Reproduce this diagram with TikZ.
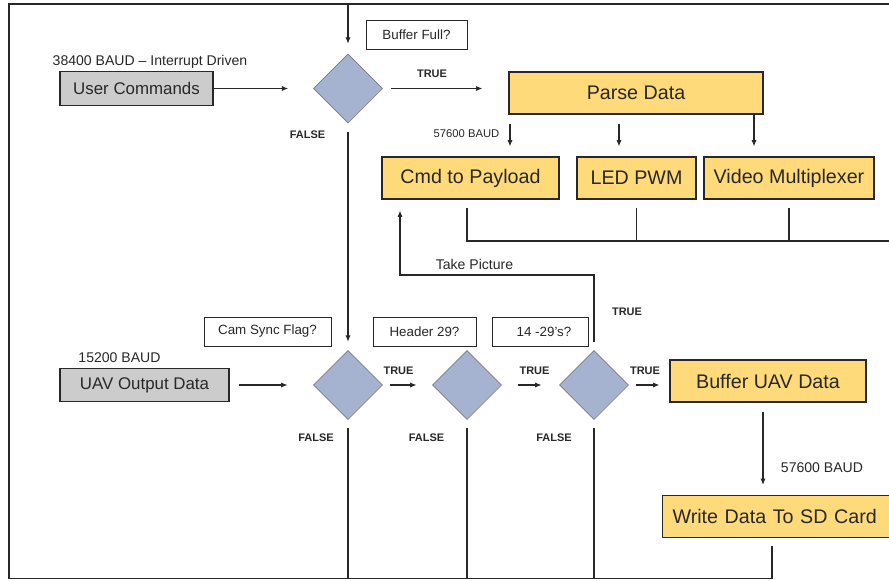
\documentclass[tikz,border=0pt]{standalone}
\usepackage{fontspec}
\setmainfont{Liberation Sans}
\usepackage{tikz}
\usetikzlibrary{positioning,shapes.geometric,arrows.meta}
\definecolor{ink}{RGB}{40,40,40}
\definecolor{boxgray}{RGB}{204,204,204}
\definecolor{boxyellow}{RGB}{255,218,122}
\definecolor{decblue}{RGB}{166,179,208}
\definecolor{decline}{RGB}{120,120,132}
\tikzset{gbox/.style = {rectangle,draw=ink,fill=boxgray,line width=0.8pt,inner sep=0pt,
                        font=\fontsize{12}{14}\selectfont,text=ink}}
\tikzset{ybox/.style = {rectangle,draw=ink,fill=boxyellow,line width=0.8pt,inner sep=0pt,
                        minimum height=1.05cm,font=\fontsize{14}{16}\selectfont,text=ink}}
\tikzset{qbox/.style = {rectangle,draw=ink,fill=white,line width=0.6pt,inner sep=0pt,
                        minimum height=0.725cm,font=\fontsize{9.5}{11}\selectfont,text=ink}}
\tikzset{dec/.style = {diamond,aspect=1,draw=decline,fill=decblue,inner sep=0pt,minimum size=1.725cm}}
\tikzset{flag/.style = {font=\fontsize{7.8}{9}\selectfont\bfseries,text=ink}}
\tikzset{note/.style = {font=\fontsize{10}{12}\selectfont,text=ink}}
\tikzset{wire/.style = {draw=ink,line width=0.8pt}}
\tikzset{flow/.style = {wire,-{Latex[length=0.16cm,width=0.13cm]}}}

\begin{document}
\begin{tikzpicture}[x=0.025cm,y=-0.025cm]
    \useasboundingbox (0,0) rectangle (889,580);
    \clip (0,0) rectangle (889,580);

    % sources
    \node [gbox, minimum width=3.825cm, minimum height=0.85cm] (user) at (136.5,88.5) {User Commands};
    \node [gbox, minimum width=4.225cm, minimum height=0.825cm] (uav) at (144.5,385) {UAV Output Data};
    \node [note] (baudcmd) at (150,62) {38400 BAUD \textendash{} Interrupt Driven};
    \node [note] (bauduav) at (119.5,358) {15200 BAUD};

    % decisions
    \node [dec] (d1) at (348,88.5) {};
    \node [dec] (d2) at (348,385) {};
    \node [dec] (d3) at (467,385) {};
    \node [dec] (d4) at (594,385) {};
    \node [qbox, minimum width=2.525cm] (full) at (416.5,35) {Buffer Full?};
    \node [qbox, minimum width=3.175cm] (sync) at (267.5,331.5) {Cam Sync Flag?};
    \node [qbox, minimum width=2.575cm] (head) at (424.5,331.5) {Header 29?};
    \node [qbox, minimum width=2.4cm] (run) at (540,331.5) {\hspace{0.2cm}14 -29's?};

    % tasks
    \node [ybox, minimum width=6.35cm] (parse) at (636,93) {Parse Data};
    \node [ybox, minimum width=4.425cm] (cmd) at (470.5,178) {Cmd to Payload};
    \node [ybox, minimum width=2.975cm] (led) at (636.5,178) {LED PWM};
    \node [ybox, minimum width=4.25cm] (video) at (789,178) {Video Multiplexer};
    \node [ybox, minimum width=4.9cm] (bufd) at (768,381) {Buffer UAV Data};
    \node [ybox, anchor=west, text width=5.45cm, inner xsep=0.25cm, align=left] (sd) at (662,516.5) {Write Data To SD Card};

    % labels
    \node [flag] (t1) at (432,74) {TRUE};
    \node [flag] (t2) at (398.5,371) {TRUE};
    \node [flag] (t3) at (534.5,371) {TRUE};
    \node [flag] (t4) at (645,371) {TRUE};
    \node [flag] (t5) at (627,312) {TRUE};
    \node [flag] (f1) at (307.5,135) {FALSE};
    \node [flag] (f2) at (316,438) {FALSE};
    \node [flag] (f3) at (426.5,438) {FALSE};
    \node [flag] (f4) at (554,438) {FALSE};
    \node [font=\fontsize{8}{9}\selectfont, text=ink] (baudpay) at (466.5,134) {57600 BAUD};
    \node [note] (baudsd) at (822,468) {57600 BAUD};
    \node [note] (take) at (474.5,264) {Take Picture};

    % loop frame
    \coordinate (top) at (348,4);
    \coordinate (nw) at (9,4);
    \coordinate (ne) at (900,4);
    \coordinate (sw) at (9,578.5);
    \coordinate (se) at (772,578.5);
    \coordinate (bus) at (900,241);
    \coordinate (tp) at (400,275);

    \draw [wire] (ne) -- (nw) -- (sw) -- (se);
    \draw [wire, shorten >=0.2cm] (se) -- (se |- sd.south);
    \draw [flow, shorten >=0.25cm] (top) -- (d1);

    % upper flow
    \draw [flow, shorten >=0.625cm] (user) -- (d1);
    \draw [flow, shorten <=0.2cm, shorten >=0.65cm] (d1) -- (d1 -| parse.west);
    \draw [flow, shorten <=0.225cm, shorten >=0.21cm] (d1) -- (d2);
    \draw [flow, shorten <=0.225cm, shorten >=0.25cm] (parse.south -| 510,0) -- (cmd.north -| 510,0);
    \draw [flow, shorten <=0.225cm, shorten >=0.25cm] (parse.south -| 619,0) -- (led.north -| 619,0);
    \draw [flow, shorten >=0.25cm] (parse.south -| 754,0) -- (video.north -| 754,0);
    \draw [wire, shorten <=0.2cm] (cmd.south -| 467,0) |- (bus);
    \draw [wire, shorten <=0.2cm] (led) -- (led |- bus);
    \draw [wire, shorten <=0.2cm] (video) -- (video |- bus);

    % lower flow
    \draw [flow, shorten <=0.225cm, shorten >=0.64cm] (uav) -- (d2);
    \draw [flow, shorten <=0.19cm, shorten >=0.39cm] (d2) -- (d3);
    \draw [flow, shorten <=0.41cm, shorten >=0.44cm] (d3) -- (d4);
    \draw [flow, shorten <=0.19cm, shorten >=0.25cm] (d4) -- (d4 -| bufd.west);
    \draw [flow, shorten <=0.2cm, shorten >=0.275cm] (d4.north) |- (tp) -- (tp |- cmd.south);
    \draw [flow, shorten <=0.225cm, shorten >=0.25cm] (bufd.south -| 763,0) -- (sd.north -| 763,0);
    \draw [wire, shorten <=0.21cm] (d2) -- (d2 |- sw);
    \draw [wire, shorten <=0.21cm] (d3) -- (d3 |- sw);
    \draw [wire, shorten <=0.21cm] (d4) -- (d4 |- sw);
\end{tikzpicture}
\end{document}
